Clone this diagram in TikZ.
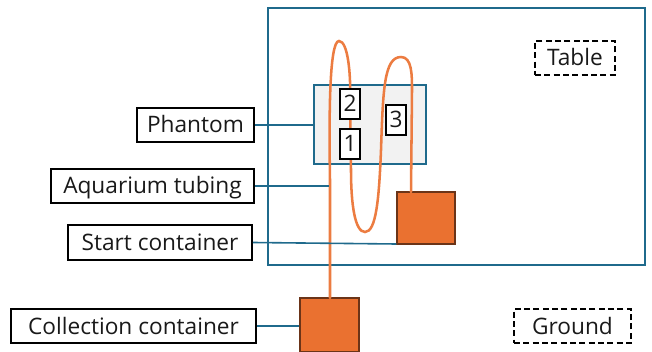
\documentclass[tikz,border=0pt]{standalone}
\usepackage{fontspec}
\setmainfont{Open Sans}
\definecolor{bluel}{HTML}{1F6A8C}
\definecolor{oran}{HTML}{EA7130}
\definecolor{oranb}{HTML}{6B3418}
\tikzset{
  x=0.75pt,y=-0.75pt,
  lab/.style={draw=black,line width=1.3pt,fill=white,inner sep=0pt,font=\fontsize{17pt}{20pt}\selectfont,text=black!90,anchor=center,text height=14pt,text depth=2pt},
  dashlab/.style={lab,dashed,dash pattern=on 4.5pt off 2.5pt,fill=none},
  numbox/.style={lab,minimum width=15pt,minimum height=22.5pt},
  cont/.style={draw=oranb,line width=1.1pt,fill=oran,inner sep=0pt},
  zone/.style={draw=bluel,line width=1.2pt,inner sep=0pt},
  lead/.style={draw=bluel,line width=1.2pt},
  tube/.style={draw=oran!92!white,line width=1.9pt,line cap=round}
}
\begin{document}
\begin{tikzpicture}
\useasboundingbox (0,0) rectangle (652,352);
\node[zone,minimum width=282.75pt,minimum height=192.75pt] (table) at (456.5,136.5) {};
\node[zone,fill=black!5,minimum width=84pt,minimum height=59.25pt] (phantom) at (370,124.5) {};
\node[cont,minimum width=43.5pt,minimum height=39pt] (start) at (426,218) {};
\node[cont,minimum width=44.25pt,minimum height=40.5pt] (coll) at (329.5,325) {};
\coordinate (collt) at (330,298);
\coordinate (startt) at (411,192);
\coordinate (tubep) at (329,186);
\draw[tube] (collt) -- (330,180) .. controls (329,120) and (329,41) .. (339,41)
  .. controls (348,41) and (351,75) .. (350,100)
  -- (351,170) .. controls (351,205) and (355,232) .. (365,232)
  .. controls (376,232) and (379,200) .. (381,150)
  .. controls (383,90) and (384,57) .. (401,57)
  .. controls (412,57) and (412,75) .. (412,90) -- (startt);
\node[lab,minimum width=87.75pt,minimum height=25.5pt] (lphantom) at (195.5,125) {Phantom};
\node[lab,minimum width=152.25pt,minimum height=25.5pt] (ltube) at (152.5,186) {Aquarium tubing};
\node[lab,minimum width=138pt,minimum height=26.25pt] (lstart) at (160,242.5) {Start container};
\node[lab,minimum width=183.75pt,minimum height=25.5pt] (lcoll) at (133.5,326) {Collection container};
\node[dashlab,minimum width=60pt,minimum height=25.5pt] (ltable) at (575,58) {Table};
\node[dashlab,minimum width=87.75pt,minimum height=25.5pt] (lground) at (572.5,326) {Ground};
\node[numbox] (n2) at (350,104) {2};
\node[numbox] (n1) at (350,144) {1};
\node[numbox] (n3) at (396,120) {3};
\draw[lead] (lphantom.east) -- (phantom.west |- lphantom.east);
\draw[lead] (ltube.east) -- (tubep);
\draw[lead] (lstart.east) -- (start.west |- 0,244);
\draw[lead] (lcoll.east) -- (coll.west |- lcoll.east);
\end{tikzpicture}
\end{document}
